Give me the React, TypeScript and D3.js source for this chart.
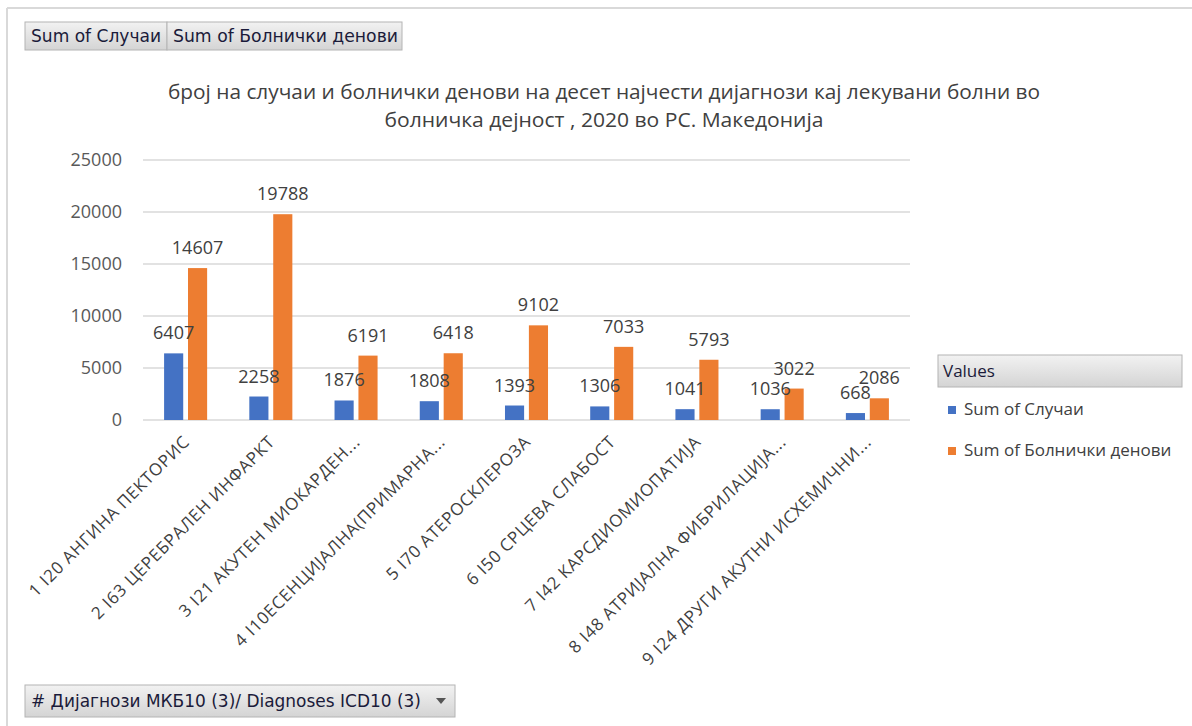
import * as d3 from "d3";

const categories = [
  "1 I20 АНГИНА ПЕКТОРИС",
  "2 I63 ЦЕРЕБРАЛЕН ИНФАРКТ",
  "3 I21 АКУТЕН МИОКАРДЕН...",
  "4 I10ЕСЕНЦИЈАЛНА(ПРИМАРНА...",
  "5 I70 АТЕРОСКЛЕРОЗА",
  "6 I50 СРЦЕВА СЛАБОСТ",
  "7 I42 КАРСДИОМИОПАТИЈА",
  "8 I48 АТРИЈАЛНА ФИБРИЛАЦИЈА...",
  "9 I24 ДРУГИ  АКУТНИ ИСХЕМИЧНИ...",
];
const cases = [6407, 2258, 1876, 1808, 1393, 1306, 1041, 1036, 668];
const hospitalDays = [14607, 19788, 6191, 6418, 9102, 7033, 5793, 3022, 2086];
const seriesNames = ["Sum of Случаи", "Sum of Болнички денови"];
const seriesColors = ["#4472C4", "#ED7D31"];
const yTicks = [0, 5000, 10000, 15000, 20000, 25000];
const titleLines = [
  "број на случаи и болнички денови  на десет најчести дијагнози кај  лекувани болни во",
  "болничка дејност , 2020 во РС. Македонија",
];
const axisFieldLabel = "# Дијагнози МКБ10 (3)/ Diagnoses ICD10 (3)";

const font = "'Open Sans', 'Noto Sans', sans-serif";
const btnFont = "'DejaVu Sans Condensed', 'Noto Sans', sans-serif";

function FieldButton({ x, y, w, h, label, size = 17, fit, arrow = false }: any) {
  return (
    <g transform={`translate(${x},${y})`}>
      <rect width={w} height={h} fill="url(#btnGrad)" stroke="#b4b4b4" />
      <text
        x={6}
        y={h / 2 + size * 0.36}
        fontFamily={btnFont}
        fontSize={size}
        fill="#1b1b3a"
        textLength={fit}
        lengthAdjust={fit ? "spacingAndGlyphs" : undefined}
      >
        {label}
      </text>
      {arrow && <path d={`M${w - 19},${h / 2 - 3} l10,0 l-5,6 z`} fill="#555" />}
    </g>
  );
}

export default function App() {
  const width = 1192;
  const height = 726;
  const plot = { left: 143, right: 910, top: 160, bottom: 420 };

  const x0 = d3.scaleBand<string>().domain(categories).range([plot.left, plot.right]).paddingInner(0.495).paddingOuter(0.2475);
  const x1 = d3.scaleBand<number>().domain([0, 1]).range([0, x0.bandwidth()]).paddingInner(0.2);
  const y = d3.scaleLinear().domain([0, 25000]).range([plot.bottom, plot.top]);

  const series = [cases, hospitalDays];
  const titleWidths = [872, 439];

  return (
    <svg width={width} height={height} style={{ position: "absolute", left: 0, top: 0 }}>
      <defs>
        <linearGradient id="btnGrad" x1="0" y1="0" x2="0" y2="1">
          <stop offset="0" stopColor="#f2f2f2" />
          <stop offset="1" stopColor="#d4d4d4" />
        </linearGradient>
      </defs>
      <rect width={width} height={height} fill="#fff" />
      <line x1={7} x2={width} y1={8} y2={8} stroke="#d9d9d9" strokeWidth={2} />
      <line x1={7} x2={7} y1={8} y2={height} stroke="#d9d9d9" strokeWidth={2} />

      <FieldButton x={25} y={22} w={142} h={28} label={seriesNames[0]} size={17} fit={130} />
      <FieldButton x={167} y={22} w={235} h={28} label={seriesNames[1]} size={17} fit={225} />

      {titleLines.map((t, i) => (
        <text
          key={i}
          x={604}
          y={99 + i * 28}
          textAnchor="middle"
          fontFamily={font}
          fontSize={19.5}
          fill="#404040"
          textLength={titleWidths[i]}
          lengthAdjust="spacingAndGlyphs"
        >
          {t}
        </text>
      ))}

      {yTicks.map((t) => (
        <g key={t}>
          <line x1={plot.left} x2={plot.right} y1={y(t)} y2={y(t)} stroke="#d9d9d9" strokeWidth={1.5} />
          <text x={122} y={y(t) + 6} textAnchor="end" fontFamily={font} fontSize={18} fill="#595959">
            {t}
          </text>
        </g>
      ))}

      {categories.map((c, ci) => (
        <g key={c} transform={`translate(${x0(c)},0)`}>
          {series.map((s, si) => (
            <rect
              key={si}
              x={x1(si)}
              y={y(s[ci])}
              width={x1.bandwidth()}
              height={y(0) - y(s[ci])}
              fill={seriesColors[si]}
            />
          ))}
          {series.map((s, si) => (
            <text
              key={"l" + si}
              x={(x1(si) as number) + x1.bandwidth() / 2}
              y={y(s[ci]) - 14}
              textAnchor="middle"
              fontFamily={font}
              fontSize={18}
              fill="#404040"
            >
              {s[ci]}
            </text>
          ))}
        </g>
      ))}

      {categories.map((c) => {
        const cx = (x0(c) as number) + x0.bandwidth() / 2 + 5;
        const cy = 443;
        return (
          <text
            key={"x" + c}
            transform={`translate(${cx},${cy}) rotate(-45)`}
            textAnchor="end"
            fontFamily={font}
            fontSize={17}
            letterSpacing={0.7}
            fill="#404040"
          >
            {c}
          </text>
        );
      })}

      <g transform="translate(938,355)">
        <rect width={244} height={32} fill="url(#btnGrad)" stroke="#b4b4b4" />
        <text x={5} y={22} fontFamily={font} fontSize={17} fill="#1b1b3a">
          Values
        </text>
      </g>
      {seriesNames.map((n, i) => (
        <g key={n} transform={`translate(948,${406 + i * 41})`}>
          <rect width={8} height={8} fill={seriesColors[i]} />
          <text x={16} y={9} fontFamily={font} fontSize={17} fill="#404040">
            {n}
          </text>
        </g>
      ))}

      <FieldButton x={25} y={685} w={430} h={32} label={axisFieldLabel} size={18} fit={390} arrow />
    </svg>
  );
}
